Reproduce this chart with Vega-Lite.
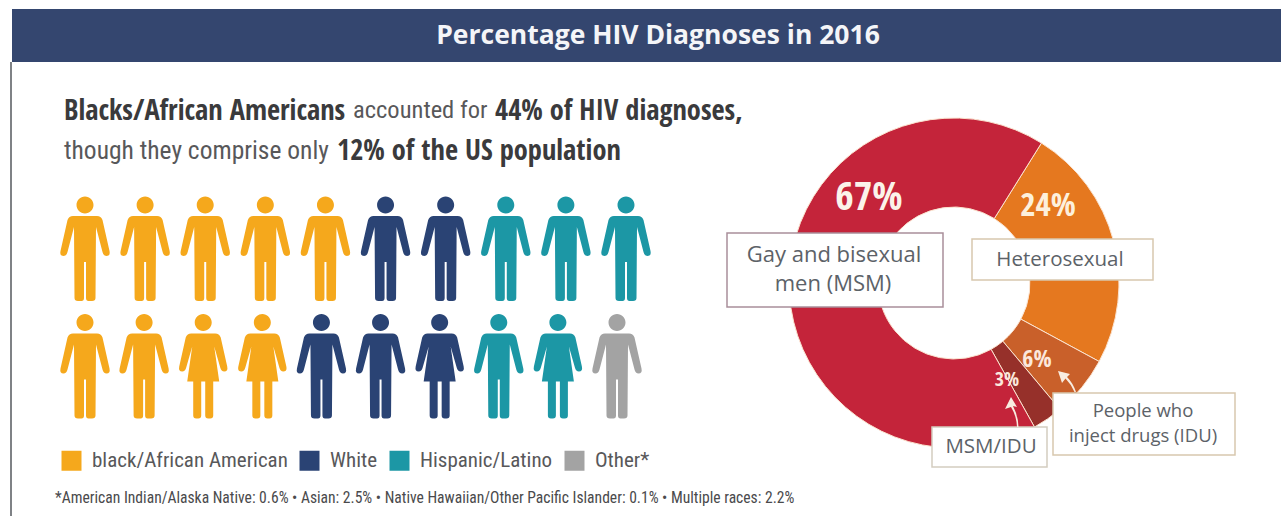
{
"$schema":"https://vega.github.io/schema/vega-lite/v6.json",
"width":1281,"height":516,"padding":0,"autosize":{"type":"none"},"background":"#ffffff",
"config":{"view":{"stroke":null},"axis":{"disable":true}},
"datasets":{
"people":[
{"row":1,"col":1,"group":"black/African American","figure":"man"},
{"row":1,"col":2,"group":"black/African American","figure":"man"},
{"row":1,"col":3,"group":"black/African American","figure":"man"},
{"row":1,"col":4,"group":"black/African American","figure":"man"},
{"row":1,"col":5,"group":"black/African American","figure":"man"},
{"row":1,"col":6,"group":"White","figure":"man"},
{"row":1,"col":7,"group":"White","figure":"man"},
{"row":1,"col":8,"group":"Hispanic/Latino","figure":"man"},
{"row":1,"col":9,"group":"Hispanic/Latino","figure":"man"},
{"row":1,"col":10,"group":"Hispanic/Latino","figure":"man"},
{"row":2,"col":1,"group":"black/African American","figure":"man"},
{"row":2,"col":2,"group":"black/African American","figure":"man"},
{"row":2,"col":3,"group":"black/African American","figure":"woman"},
{"row":2,"col":4,"group":"black/African American","figure":"woman"},
{"row":2,"col":5,"group":"White","figure":"man"},
{"row":2,"col":6,"group":"White","figure":"man"},
{"row":2,"col":7,"group":"White","figure":"woman"},
{"row":2,"col":8,"group":"Hispanic/Latino","figure":"man"},
{"row":2,"col":9,"group":"Hispanic/Latino","figure":"woman"},
{"row":2,"col":10,"group":"Other*","figure":"man"}
],
"routes":[
{"route":"Heterosexual","share":24,"rank":1},
{"route":"People who inject drugs (IDU)","share":6,"rank":2},
{"route":"MSM/IDU","share":3,"rank":3},
{"route":"Gay and bisexual men (MSM)","share":67,"rank":4}
]
},
"resolve":{"scale":{"x":"independent","y":"independent","color":"independent","shape":"independent"}},
"layer":[
{"data":{"values":[{}]},"mark":{"type":"rect","color":"#34466f"},"encoding":{
"x":{"datum":12,"type":"quantitative","scale":{"domain":[0,1281],"range":[0,1281],"nice":false,"zero":false}},"x2":{"datum":1281},
"y":{"datum":9,"type":"quantitative","scale":{"domain":[0,516],"range":[0,516],"nice":false,"zero":false}},"y2":{"datum":62}}},
{"data":{"values":[{}]},"mark":{"type":"rule","color":"#55585e","strokeWidth":1.5},"encoding":{
"x":{"datum":11,"type":"quantitative","scale":{"domain":[0,1281],"range":[0,1281],"nice":false,"zero":false}},
"y":{"datum":62,"type":"quantitative","scale":{"domain":[0,516],"range":[0,516],"nice":false,"zero":false}},"y2":{"datum":516}}},
{"data":{"values":[{}]},"mark":{"type":"text","align":"center","baseline":"middle","font":"Open Sans","fontWeight":"bold","fontSize":26.5,"color":"#f4f5f8"},"encoding":{
"x":{"datum":658,"type":"quantitative","scale":{"domain":[0,1281],"range":[0,1281],"nice":false,"zero":false}},
"y":{"datum":36,"type":"quantitative","scale":{"domain":[0,516],"range":[0,516],"nice":false,"zero":false}},
"text":{"value":"Percentage HIV Diagnoses in 2016"}}},
{"data":{"values":[{}]},"mark":{"type":"text","align":"left","baseline":"middle","font":"Open Sans Condensed","fontWeight":"bold","fontSize":28.4,"color":"#3a3a3c"},"encoding":{
"x":{"datum":64,"type":"quantitative","scale":{"domain":[0,1281],"range":[0,1281],"nice":false,"zero":false}},
"y":{"datum":111,"type":"quantitative","scale":{"domain":[0,516],"range":[0,516],"nice":false,"zero":false}},
"text":{"value":"Blacks/African Americans"}}},
{"data":{"values":[{}]},"mark":{"type":"text","align":"left","baseline":"middle","font":"Roboto Condensed","fontSize":24.5,"color":"#58585a"},"encoding":{
"x":{"datum":353,"type":"quantitative","scale":{"domain":[0,1281],"range":[0,1281],"nice":false,"zero":false}},
"y":{"datum":111,"type":"quantitative","scale":{"domain":[0,516],"range":[0,516],"nice":false,"zero":false}},
"text":{"value":"accounted for"}}},
{"data":{"values":[{}]},"mark":{"type":"text","align":"left","baseline":"middle","font":"Open Sans Condensed","fontWeight":"bold","fontSize":28.4,"color":"#3a3a3c"},"encoding":{
"x":{"datum":495,"type":"quantitative","scale":{"domain":[0,1281],"range":[0,1281],"nice":false,"zero":false}},
"y":{"datum":111,"type":"quantitative","scale":{"domain":[0,516],"range":[0,516],"nice":false,"zero":false}},
"text":{"value":"44% of HIV diagnoses,"}}},
{"data":{"values":[{}]},"mark":{"type":"text","align":"left","baseline":"middle","font":"Roboto Condensed","fontSize":25.5,"color":"#58585a"},"encoding":{
"x":{"datum":64,"type":"quantitative","scale":{"domain":[0,1281],"range":[0,1281],"nice":false,"zero":false}},
"y":{"datum":151,"type":"quantitative","scale":{"domain":[0,516],"range":[0,516],"nice":false,"zero":false}},
"text":{"value":"though they comprise only"}}},
{"data":{"values":[{}]},"mark":{"type":"text","align":"left","baseline":"middle","font":"Open Sans Condensed","fontWeight":"bold","fontSize":28.4,"color":"#3a3a3c"},"encoding":{
"x":{"datum":337,"type":"quantitative","scale":{"domain":[0,1281],"range":[0,1281],"nice":false,"zero":false}},
"y":{"datum":151,"type":"quantitative","scale":{"domain":[0,516],"range":[0,516],"nice":false,"zero":false}},
"text":{"value":"12% of the US population"}}},
{"data":{"name":"people"},"transform":[{"filter":"datum.row === 1"}],
"mark":{"type":"point","filled":true,"opacity":1,"size":4,"strokeWidth":0},
"encoding":{
"x":{"field":"col","type":"quantitative","scale":{"domain":[1,10],"range":[85,626],"nice":false,"zero":false}},
"y":{"field":"row","type":"quantitative","scale":{"domain":[1,2],"range":[249,366.5],"nice":false,"zero":false}},
"shape":{"field":"figure","type":"nominal","legend":null,"scale":{"domain":["man","woman"],"range":[
"M-8.5,-44A8.5,8.5,0,1,0,8.5,-44A8.5,8.5,0,1,0,-8.5,-44ZM-12,-33L12,-33Q16,-33,17.5,-29L24.5,2Q25.5,7,21.5,7Q18.5,7,17.5,3L11,-22L10.5,49Q10.5,52,7,52L3.5,52Q1,52,1,49L1,13L-1,13L-1,49Q-1,52,-3.5,52L-7,52Q-10.5,52,-10.5,49L-11,-22L-17.5,3Q-18.5,7,-21.5,7Q-25.5,7,-24.5,2L-17.5,-29Q-16,-33,-12,-33Z",
"M-8.5,-44A8.5,8.5,0,1,0,8.5,-44A8.5,8.5,0,1,0,-8.5,-44ZM-12,-33L12,-33Q16,-33,17.5,-29L24,0Q25,5,21,5Q18,5,17,1L11,-20L16,15L10,15L10,49Q10,52,7,52L5,52Q2,52,2,49L2,15L-2,15L-2,49Q-2,52,-5,52L-7,52Q-10,52,-10,49L-10,15L-16,15L-11,-20L-17,1Q-18,5,-21,5Q-25,5,-24,0L-17.5,-29Q-16,-33,-12,-33Z"]}},
"color":{"field":"group","type":"nominal","scale":{"domain":["black/African American","White","Hispanic/Latino","Other*"],"range":["#f5a81c","#2a4374","#1c97a5","#a3a3a3"]},
"legend":{"orient":"none","legendX":61,"legendY":450,"title":null,"direction":"horizontal","columns":4,"padding":0,"symbolType":"square","symbolSize":400,"symbolStrokeWidth":0,"labelFont":"Roboto Condensed","labelFontSize":21,"labelColor":"#58585a","labelOffset":10,"columnPadding":11,"symbolOpacity":1,"labelLimit":400}}
}},
{"data":{"name":"people"},"transform":[{"filter":"datum.row === 2"}],
"mark":{"type":"point","filled":true,"opacity":1,"size":4,"strokeWidth":0},
"encoding":{
"x":{"field":"col","type":"quantitative","scale":{"domain":[1,10],"range":[85,617],"nice":false,"zero":false}},
"y":{"field":"row","type":"quantitative","scale":{"domain":[1,2],"range":[249,366.5],"nice":false,"zero":false}},
"shape":{"field":"figure","type":"nominal","legend":null,"scale":{"domain":["man","woman"],"range":[
"M-8.5,-44A8.5,8.5,0,1,0,8.5,-44A8.5,8.5,0,1,0,-8.5,-44ZM-12,-33L12,-33Q16,-33,17.5,-29L24.5,2Q25.5,7,21.5,7Q18.5,7,17.5,3L11,-22L10.5,49Q10.5,52,7,52L3.5,52Q1,52,1,49L1,13L-1,13L-1,49Q-1,52,-3.5,52L-7,52Q-10.5,52,-10.5,49L-11,-22L-17.5,3Q-18.5,7,-21.5,7Q-25.5,7,-24.5,2L-17.5,-29Q-16,-33,-12,-33Z",
"M-8.5,-44A8.5,8.5,0,1,0,8.5,-44A8.5,8.5,0,1,0,-8.5,-44ZM-12,-33L12,-33Q16,-33,17.5,-29L24,0Q25,5,21,5Q18,5,17,1L11,-20L16,15L10,15L10,49Q10,52,7,52L5,52Q2,52,2,49L2,15L-2,15L-2,49Q-2,52,-5,52L-7,52Q-10,52,-10,49L-10,15L-16,15L-11,-20L-17,1Q-18,5,-21,5Q-25,5,-24,0L-17.5,-29Q-16,-33,-12,-33Z"]}},
"color":{"field":"group","type":"nominal","legend":null,"scale":{"domain":["black/African American","White","Hispanic/Latino","Other*"],"range":["#f5a81c","#2a4374","#1c97a5","#a3a3a3"]}}
}},
{"data":{"values":[{}]},"mark":{"type":"text","align":"left","baseline":"middle","font":"Roboto Condensed","fontSize":15.6,"color":"#4a4a4c"},"encoding":{
"x":{"datum":55,"type":"quantitative","scale":{"domain":[0,1281],"range":[0,1281],"nice":false,"zero":false}},
"y":{"datum":498,"type":"quantitative","scale":{"domain":[0,516],"range":[0,516],"nice":false,"zero":false}},
"text":{"value":"*American Indian/Alaska Native: 0.6% • Asian: 2.5%  • Native Hawaiian/Other Pacific Islander: 0.1% • Multiple races: 2.2%"}}},
{"data":{"name":"routes"},
"mark":{"type":"arc","outerRadius":165,"innerRadius":76,"stroke":"#fbe3cf","strokeWidth":1},
"encoding":{
"theta":{"field":"share","type":"quantitative","stack":true,"scale":{"domain":[0,100],"range":[0.5585,6.8417]}},
"order":{"field":"rank","type":"ordinal"},
"color":{"field":"route","type":"nominal","legend":null,"scale":{"domain":["Heterosexual","People who inject drugs (IDU)","MSM/IDU","Gay and bisexual men (MSM)"],"range":["#e5781f","#c9602a","#96302a","#c4243a"]}},
"x":{"datum":954,"type":"quantitative","scale":{"domain":[0,1281],"range":[0,1281],"nice":false,"zero":false}},
"y":{"datum":283,"type":"quantitative","scale":{"domain":[0,516],"range":[0,516],"nice":false,"zero":false}}
}},
{"data":{"values":[{}]},"mark":{"type":"rect","fill":"#ffffff","stroke":"#a98f9a","strokeWidth":1.5},"encoding":{
"x":{"datum":727,"type":"quantitative","scale":{"domain":[0,1281],"range":[0,1281],"nice":false,"zero":false}},"x2":{"datum":943},
"y":{"datum":233,"type":"quantitative","scale":{"domain":[0,516],"range":[0,516],"nice":false,"zero":false}},"y2":{"datum":307}}},
{"data":{"values":[{}]},"mark":{"type":"rect","fill":"#ffffff","stroke":"#d8c8ae","strokeWidth":1.5},"encoding":{
"x":{"datum":972,"type":"quantitative","scale":{"domain":[0,1281],"range":[0,1281],"nice":false,"zero":false}},"x2":{"datum":1153},
"y":{"datum":239,"type":"quantitative","scale":{"domain":[0,516],"range":[0,516],"nice":false,"zero":false}},"y2":{"datum":280}}},
{"data":{"values":[{}]},"mark":{"type":"rect","fill":"#ffffff","stroke":"#d8c8ae","strokeWidth":1.5},"encoding":{
"x":{"datum":1053,"type":"quantitative","scale":{"domain":[0,1281],"range":[0,1281],"nice":false,"zero":false}},"x2":{"datum":1235},
"y":{"datum":393,"type":"quantitative","scale":{"domain":[0,516],"range":[0,516],"nice":false,"zero":false}},"y2":{"datum":455}}},
{"data":{"values":[{}]},"mark":{"type":"rect","fill":"#ffffff","stroke":"#d4cdc0","strokeWidth":1.5},"encoding":{
"x":{"datum":932,"type":"quantitative","scale":{"domain":[0,1281],"range":[0,1281],"nice":false,"zero":false}},"x2":{"datum":1047},
"y":{"datum":427,"type":"quantitative","scale":{"domain":[0,516],"range":[0,516],"nice":false,"zero":false}},"y2":{"datum":467}}},
{"data":{"values":[{}]},"mark":{"type":"text","align":"center","baseline":"middle","font":"Open Sans","fontSize":22,"color":"#5c6268"},"encoding":{
"x":{"datum":834,"type":"quantitative","scale":{"domain":[0,1281],"range":[0,1281],"nice":false,"zero":false}},
"y":{"datum":255,"type":"quantitative","scale":{"domain":[0,516],"range":[0,516],"nice":false,"zero":false}},
"text":{"value":"Gay and bisexual"}}},
{"data":{"values":[{}]},"mark":{"type":"text","align":"center","baseline":"middle","font":"Open Sans","fontSize":22,"color":"#5c6268"},"encoding":{
"x":{"datum":833,"type":"quantitative","scale":{"domain":[0,1281],"range":[0,1281],"nice":false,"zero":false}},
"y":{"datum":284,"type":"quantitative","scale":{"domain":[0,516],"range":[0,516],"nice":false,"zero":false}},
"text":{"value":"men (MSM)"}}},
{"data":{"values":[{}]},"mark":{"type":"text","align":"center","baseline":"middle","font":"Open Sans","fontSize":20.5,"color":"#5c6268"},"encoding":{
"x":{"datum":1060,"type":"quantitative","scale":{"domain":[0,1281],"range":[0,1281],"nice":false,"zero":false}},
"y":{"datum":260,"type":"quantitative","scale":{"domain":[0,516],"range":[0,516],"nice":false,"zero":false}},
"text":{"value":"Heterosexual"}}},
{"data":{"values":[{}]},"mark":{"type":"text","align":"center","baseline":"middle","font":"Open Sans","fontSize":18.5,"color":"#5c6268"},"encoding":{
"x":{"datum":1143,"type":"quantitative","scale":{"domain":[0,1281],"range":[0,1281],"nice":false,"zero":false}},
"y":{"datum":411,"type":"quantitative","scale":{"domain":[0,516],"range":[0,516],"nice":false,"zero":false}},
"text":{"value":"People who"}}},
{"data":{"values":[{}]},"mark":{"type":"text","align":"center","baseline":"middle","font":"Open Sans","fontSize":18.5,"color":"#5c6268"},"encoding":{
"x":{"datum":1143,"type":"quantitative","scale":{"domain":[0,1281],"range":[0,1281],"nice":false,"zero":false}},
"y":{"datum":436,"type":"quantitative","scale":{"domain":[0,516],"range":[0,516],"nice":false,"zero":false}},
"text":{"value":"inject drugs (IDU)"}}},
{"data":{"values":[{}]},"mark":{"type":"text","align":"center","baseline":"middle","font":"Open Sans","fontSize":20.5,"color":"#5c6268"},"encoding":{
"x":{"datum":991,"type":"quantitative","scale":{"domain":[0,1281],"range":[0,1281],"nice":false,"zero":false}},
"y":{"datum":447,"type":"quantitative","scale":{"domain":[0,516],"range":[0,516],"nice":false,"zero":false}},
"text":{"value":"MSM/IDU"}}},
{"data":{"values":[{}]},"mark":{"type":"text","align":"center","baseline":"middle","font":"Open Sans Condensed","fontWeight":"bold","fontSize":40,"color":"#fbf3ea"},"encoding":{
"x":{"datum":869,"type":"quantitative","scale":{"domain":[0,1281],"range":[0,1281],"nice":false,"zero":false}},
"y":{"datum":198,"type":"quantitative","scale":{"domain":[0,516],"range":[0,516],"nice":false,"zero":false}},
"text":{"value":"67%"}}},
{"data":{"values":[{}]},"mark":{"type":"text","align":"center","baseline":"middle","font":"Open Sans Condensed","fontWeight":"bold","fontSize":33,"color":"#fdf0dc"},"encoding":{
"x":{"datum":1048,"type":"quantitative","scale":{"domain":[0,1281],"range":[0,1281],"nice":false,"zero":false}},
"y":{"datum":206,"type":"quantitative","scale":{"domain":[0,516],"range":[0,516],"nice":false,"zero":false}},
"text":{"value":"24%"}}},
{"data":{"values":[{}]},"mark":{"type":"text","align":"center","baseline":"middle","font":"Open Sans Condensed","fontWeight":"bold","fontSize":24,"color":"#fbe8dc"},"encoding":{
"x":{"datum":1037,"type":"quantitative","scale":{"domain":[0,1281],"range":[0,1281],"nice":false,"zero":false}},
"y":{"datum":360,"type":"quantitative","scale":{"domain":[0,516],"range":[0,516],"nice":false,"zero":false}},
"text":{"value":"6%"}}},
{"data":{"values":[{}]},"mark":{"type":"text","align":"center","baseline":"middle","font":"Open Sans Condensed","fontWeight":"bold","fontSize":20,"color":"#fbe8dc"},"encoding":{
"x":{"datum":1007,"type":"quantitative","scale":{"domain":[0,1281],"range":[0,1281],"nice":false,"zero":false}},
"y":{"datum":380,"type":"quantitative","scale":{"domain":[0,516],"range":[0,516],"nice":false,"zero":false}},
"text":{"value":"3%"}}},
{"data":{"values":[{}]},"mark":{"type":"point","filled":true,"opacity":1,"size":4,"strokeWidth":0,"color":"#f8ece0"},"encoding":{
"x":{"datum":1011,"type":"quantitative","scale":{"domain":[0,1281],"range":[0,1281],"nice":false,"zero":false}},
"y":{"datum":397,"type":"quantitative","scale":{"domain":[0,516],"range":[0,516],"nice":false,"zero":false}},
"shape":{"value":"M0,0L6,10L2,9Q7,18,7.5,30L6,30Q5.5,19,0,10L-6,12Z"}}},
{"data":{"values":[{}]},"mark":{"type":"point","filled":true,"opacity":1,"size":4,"strokeWidth":0,"color":"#f8ece0"},"encoding":{
"x":{"datum":1058,"type":"quantitative","scale":{"domain":[0,1281],"range":[0,1281],"nice":false,"zero":false}},
"y":{"datum":371,"type":"quantitative","scale":{"domain":[0,516],"range":[0,516],"nice":false,"zero":false}},
"shape":{"value":"M0,0L12,3L9,6Q15,12,18,21L16.5,21Q13,13,7.5,7.5L4,12Z"}}}
]
}
